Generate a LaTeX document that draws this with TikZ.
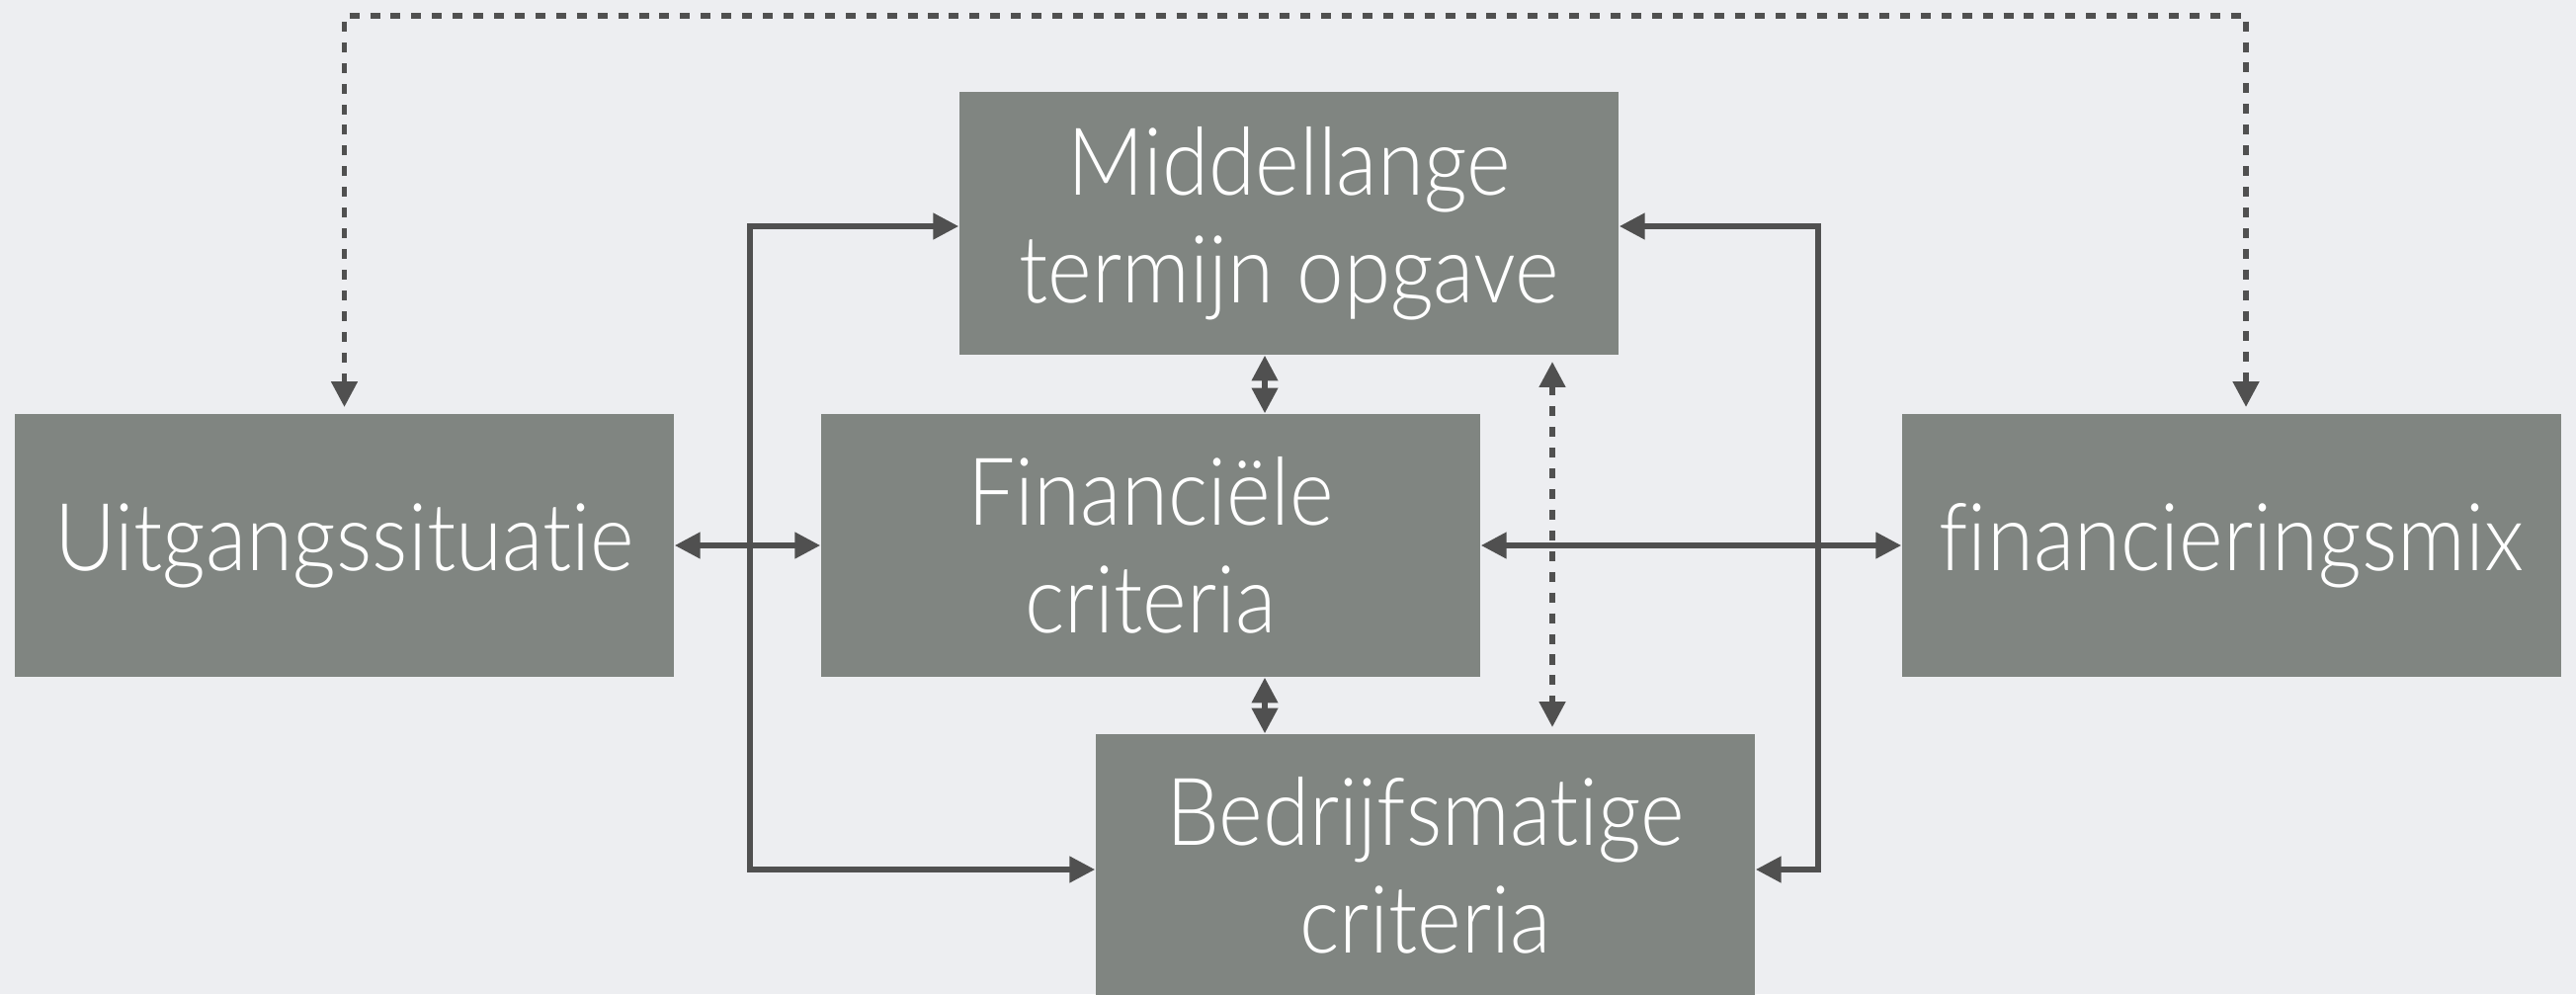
\documentclass[tikz,border=0pt]{standalone}
\usepackage{fontspec}
\setmainfont{Lato Light}[Ligatures=NoCommon, FakeStretch=0.9]
\usetikzlibrary{arrows.meta}

\definecolor{boxgray}{RGB}{128,133,129}
\definecolor{linegray}{RGB}{80,80,80}
\definecolor{bggray}{RGB}{237,238,241}

\begin{document}
\begin{tikzpicture}[x=0.01cm,y=-0.01cm]
		\useasboundingbox (0,0) rectangle (2607,1006);
		\fill[bggray] (0,0) rectangle (2607,1006);
		\begin{scope}
            [
                every node/.style={fill=boxgray, text=white, minimum width=6.67cm, minimum height=2.66cm, inner sep=0pt, align=center, font=\fontsize{27}{31}\selectfont}
            ]
            
			\node(uit) at (348.5,552) {Uitgangssituatie};
			\node(fin) at (1164.5,552) {Financiële\\criteria};
			\node(mid) at (1304.5,226) {Middellange\\termijn opgave};
			\node(bed) at (1442.5,876) {Bedrijfsmatige\\criteria};
			\node(mix) at (2258.5,552) {financieringsmix};

		\end{scope}
		\begin{scope}
            [>={Triangle[length=7.3pt,width=7.3pt]},
                conn/.style={draw=linegray, line width=1.5pt},
                dashline/.style={conn, dash pattern=on 2.85pt off 3.1pt, shorten <=1.8pt, shorten >=1.8pt},
                every edge/.style={conn},
            ]
			\coordinate (topR) at (2273,16);
			\coordinate (lt) at (759,229);
			\coordinate (lb) at (759,880);
			\coordinate (rt) at (1840,229);
			\coordinate (rb) at (1840,880);
			\coordinate (c1) at (1280,0);
			\coordinate (c2) at (1571,0);

			\draw[dashline,<->] (uit.north) |- (topR) -- (topR |- mix.north);
			\draw[dashline,<->] (mid.south -| c2) -- (bed.north -| c2);
			\draw[conn,<->] (lt -| mid.west) -- (lt) -- (lb) -- (lb -| bed.west);
			\draw[conn,<->] (rt -| mid.east) -- (rt) -- (rb) -- (rb -| bed.east);
            \path 
            (uit) edge[<->] (fin)
			(fin) edge[<->] (mix)
			(mid.south -| c1) edge[<->] (fin.north -| c1)
			(fin.south -| c1) edge[<->] (bed.north -| c1);
		\end{scope}
\end{tikzpicture}
\end{document}
